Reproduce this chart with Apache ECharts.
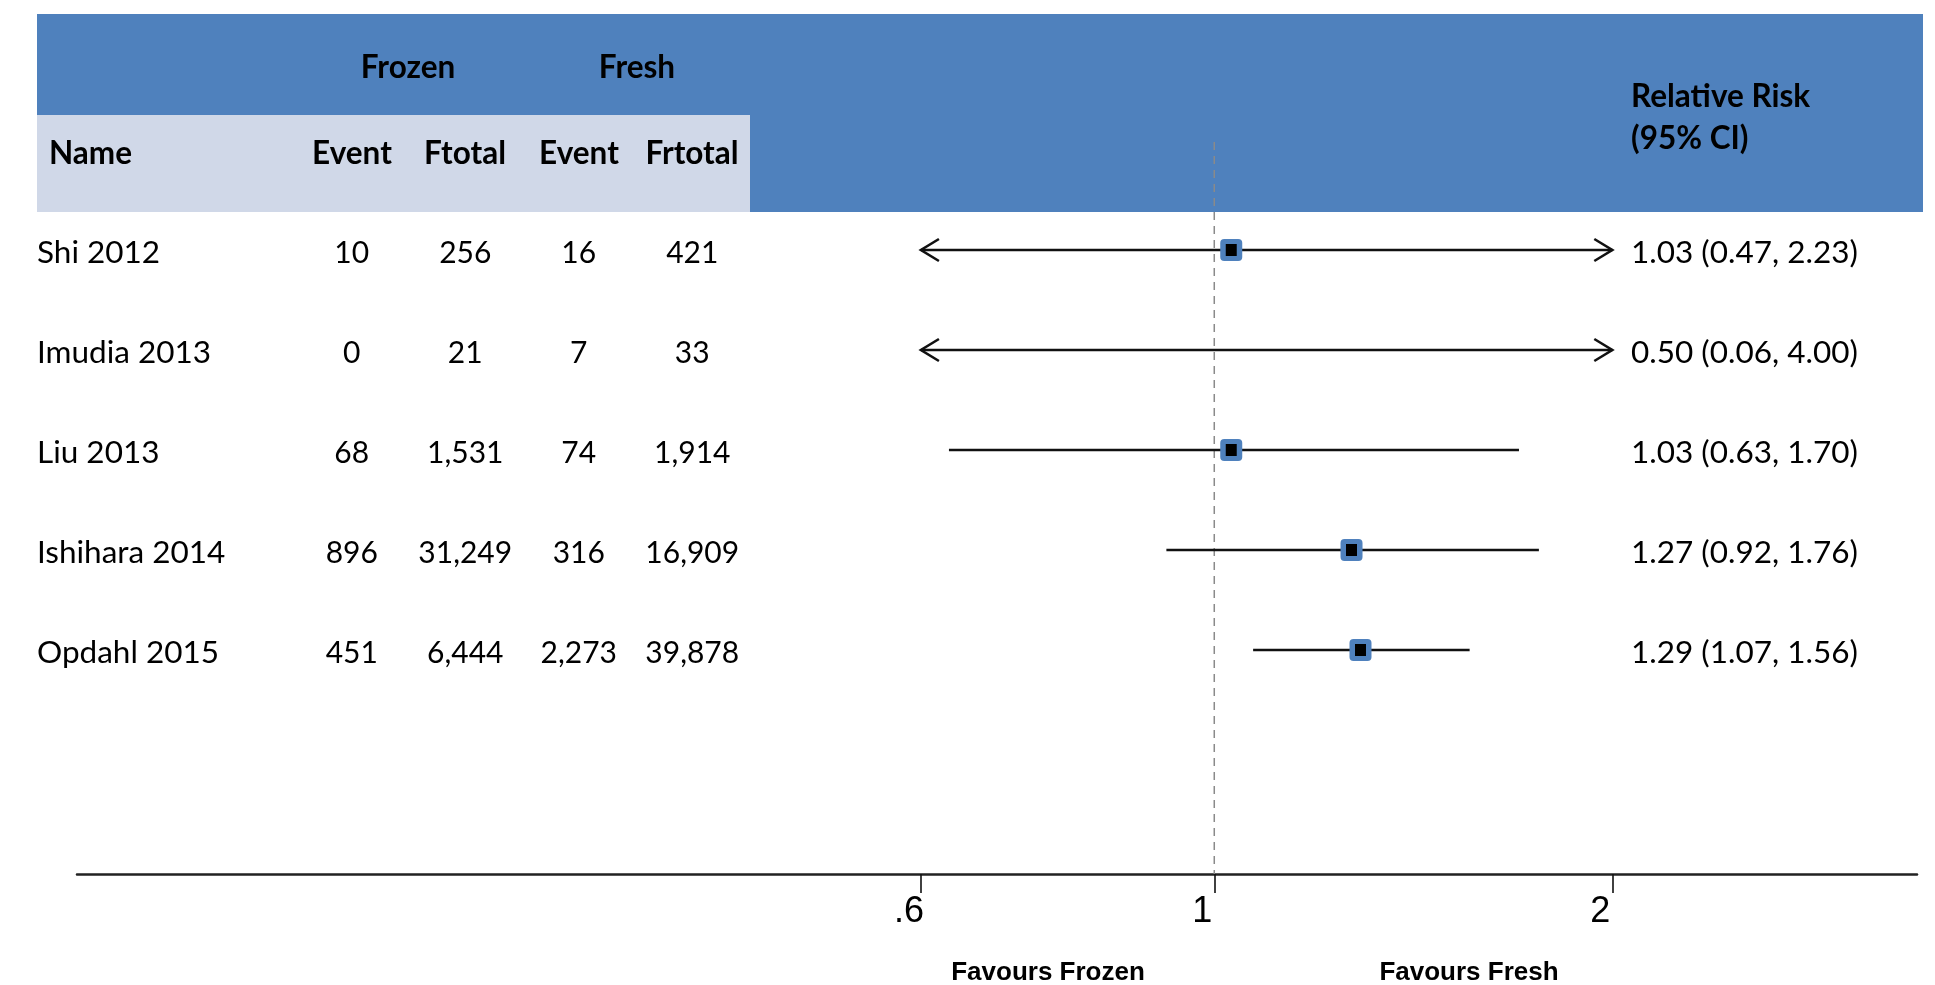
<!DOCTYPE html>
<html>
<head>
<meta charset="utf-8">
<script src="https://cdn.jsdelivr.net/npm/echarts@6/dist/echarts.min.js"></script>
<style>
  html, body { margin: 0; padding: 0; background: #ffffff; }
  #chart { width: 1935px; height: 985px; }
</style>
</head>
<body>
<div id="chart"></div>
<script>
// Frozen vs fresh embryo transfer: study-level relative risks
const studies      = ['Shi 2012', 'Imudia 2013', 'Liu 2013', 'Ishihara 2014', 'Opdahl 2015'];
const frozenEvents = [10, 0, 68, 896, 451];
const frozenTotals = [256, 21, 1531, 31249, 6444];
const freshEvents  = [16, 7, 74, 316, 2273];
const freshTotals  = [421, 33, 1914, 16909, 39878];
const relRisk      = [1.03, 0.50, 1.03, 1.27, 1.29];
const ciLower      = [0.47, 0.06, 0.63, 0.92, 1.07];
const ciUpper      = [2.23, 4.00, 1.70, 1.76, 1.56];
const axisTicks    = [0.6, 1, 2];
const countColumns = ['Event', 'Ftotal', 'Event', 'Frtotal'];

// displayed range of the effect axis; intervals beyond it end in arrows
const CLIP = [0.6, 2];

const TABLE_FONT = 'Lato, "Open Sans", sans-serif';
const STATA_FONT = '"Liberation Sans Narrow", "Liberation Sans", Arial, sans-serif';
const BLUE = '#4F81BD';
const LIGHT = '#D0D8E8';
const INK = '#111';
const TEXT_NUDGE = 3; // Lato sits slightly high when middle-aligned

const rowOf = i => i + 1;
const fmt = n => n.toLocaleString('en-US');
const ciText = i => `${relRisk[i].toFixed(2)} (${ciLower[i].toFixed(2)}, ${ciUpper[i].toFixed(2)})`;

const gridTop = 142, gridBottom = 111;
const yRange = { min: -0.08, max: 7.24 };

function hiddenY(gridIndex) {
  return { type: 'value', gridIndex, inverse: true, min: yRange.min, max: yRange.max, show: false };
}

// text drawn at a data coordinate of its own grid
function textSeries(xi, data, align, size) {
  return {
    type: 'custom',
    xAxisIndex: xi, yAxisIndex: xi,
    data,
    encode: { x: 0, y: 1 },
    clip: false,
    silent: true,
    renderItem(params, api) {
      const p = api.coord([api.value(0), api.value(1)]);
      return {
        type: 'text',
        x: p[0], y: p[1] + TEXT_NUDGE,
        style: {
          text: data[params.dataIndex][2],
          font: `${size}px ${TABLE_FONT}`,
          fill: '#000',
          align: align,
          verticalAlign: 'middle'
        }
      };
    }
  };
}

const nameData = studies.map((s, i) => [0, rowOf(i), s]);
const countData = [];
studies.forEach((s, i) => {
  [frozenEvents, frozenTotals, freshEvents, freshTotals].forEach((arr, c) => {
    countData.push([c, rowOf(i), fmt(arr[i])]);
  });
});
const rrData = studies.map((s, i) => [0, rowOf(i), ciText(i)]);
const ciData = studies.map((s, i) => [ciLower[i], ciUpper[i], relRisk[i], rowOf(i)]);

const chart = echarts.init(document.getElementById('chart'), null, { renderer: 'canvas' });

const headerText = (text, x, y, align) => ({
  type: 'text', x, y: y + TEXT_NUDGE, z: 1,
  style: { text, font: `bold 31.5px ${TABLE_FONT}`, fill: '#000', align, verticalAlign: 'middle' }
});

const footText = (text, x) => ({
  type: 'text', x, y: 973, z: 1,
  style: { text, font: `bold 26px ${STATA_FONT}`, fill: '#000', align: 'center', verticalAlign: 'middle' }
});

chart.setOption({
  animation: false,
  backgroundColor: '#ffffff',
  grid: [
    { left: 77, right: 18, top: gridTop, bottom: gridBottom },
    { left: 37, width: 200, top: gridTop, bottom: gridBottom },
    { left: 295, width: 454, top: gridTop, bottom: gridBottom },
    { left: 1631, width: 280, top: gridTop, bottom: gridBottom }
  ],
  xAxis: [
    {
      type: 'log', gridIndex: 0, logBase: 10, min: 0.138, max: 3.4,
      axisLine: { show: true, onZero: false, lineStyle: { color: '#222', width: 2.5 } },
      axisTick: { show: true, customValues: axisTicks, length: 19, lineStyle: { color: '#111', width: 1.6 } },
      axisLabel: {
        customValues: axisTicks,
        margin: 20,
        fontSize: 36,
        fontFamily: STATA_FONT,
        color: '#000',
        padding: [0, 24, 0, 0],
        formatter: v => {
          const s = String(Number(v.toPrecision(6)));
          return s.startsWith('0.') ? s.slice(1) : s;
        }
      },
      splitLine: { show: false },
      minorTick: { show: false }
    },
    { type: 'value', gridIndex: 1, min: 0, max: 1, show: false },
    { type: 'category', gridIndex: 2, data: countColumns, show: false },
    { type: 'value', gridIndex: 3, min: 0, max: 1, show: false }
  ],
  yAxis: [hiddenY(0), hiddenY(1), hiddenY(2), hiddenY(3)],
  graphic: [
    { type: 'rect', z: 0, shape: { x: 37, y: 14, width: 1886, height: 198 }, style: { fill: BLUE } },
    { type: 'rect', z: 0, shape: { x: 37, y: 115, width: 713, height: 97 }, style: { fill: LIGHT } },
    headerText('Frozen', 408, 65, 'center'),
    headerText('Fresh', 637, 65, 'center'),
    headerText('Name', 49, 151, 'left'),
    headerText(countColumns[0], 352, 151, 'center'),
    headerText(countColumns[1], 465, 151, 'center'),
    headerText(countColumns[2], 579, 151, 'center'),
    headerText(countColumns[3], 692, 151, 'center'),
    headerText('Relative Risk', 1631, 94, 'left'),
    headerText('(95% CI)', 1631, 136, 'left'),
    footText('Favours Frozen', 1048),
    footText('Favours Fresh', 1469)
  ],
  series: [
    // reference line of no effect
    {
      type: 'custom', xAxisIndex: 0, yAxisIndex: 0, clip: false, silent: true,
      data: [[1]],
      encode: { x: 0 },
      renderItem(params, api) {
        const a = api.coord([1, yRange.min]);
        const b = api.coord([1, yRange.max]);
        return {
          type: 'line',
          shape: { x1: a[0], y1: a[1], x2: b[0], y2: b[1] },
          style: { stroke: '#8a8a8a', lineWidth: 1.5, lineDash: [8, 6] }
        };
      }
    },
    // confidence intervals and point estimates
    {
      type: 'custom', xAxisIndex: 0, yAxisIndex: 0, clip: false, silent: true,
      data: ciData,
      encode: { x: [0, 1, 2], y: 3 },
      renderItem(params, api) {
        const lo = api.value(0), hi = api.value(1), est = api.value(2), row = api.value(3);
        const p1 = api.coord([Math.max(lo, CLIP[0]), row]);
        const p2 = api.coord([Math.min(hi, CLIP[1]), row]);
        const children = [{
          type: 'line',
          shape: { x1: p1[0], y1: p1[1], x2: p2[0], y2: p2[1] },
          style: { stroke: INK, lineWidth: 2.3 }
        }];
        if (lo < CLIP[0]) {
          children.push({
            type: 'polyline',
            shape: { points: [[p1[0] + 18, p1[1] - 11], [p1[0], p1[1]], [p1[0] + 18, p1[1] + 11]] },
            style: { stroke: INK, lineWidth: 2.6, fill: null }
          });
        }
        if (hi > CLIP[1]) {
          children.push({
            type: 'polyline',
            shape: { points: [[p2[0] - 18, p2[1] - 11], [p2[0], p2[1]], [p2[0] - 18, p2[1] + 11]] },
            style: { stroke: INK, lineWidth: 2.6, fill: null }
          });
        }
        if (est >= CLIP[0] && est <= CLIP[1]) {
          const c = api.coord([est, row]);
          children.push(
            { type: 'rect', shape: { x: c[0] - 11, y: c[1] - 11, width: 22, height: 22, r: 4 }, style: { fill: BLUE } },
            { type: 'rect', shape: { x: c[0] - 5.5, y: c[1] - 6, width: 11, height: 12 }, style: { fill: '#000' } }
          );
        }
        return { type: 'group', children };
      }
    },
    textSeries(1, nameData, 'left', 31.5),
    textSeries(2, countData, 'center', 30),
    textSeries(3, rrData, 'left', 31.5)
  ]
});
</script>
</body>
</html>
